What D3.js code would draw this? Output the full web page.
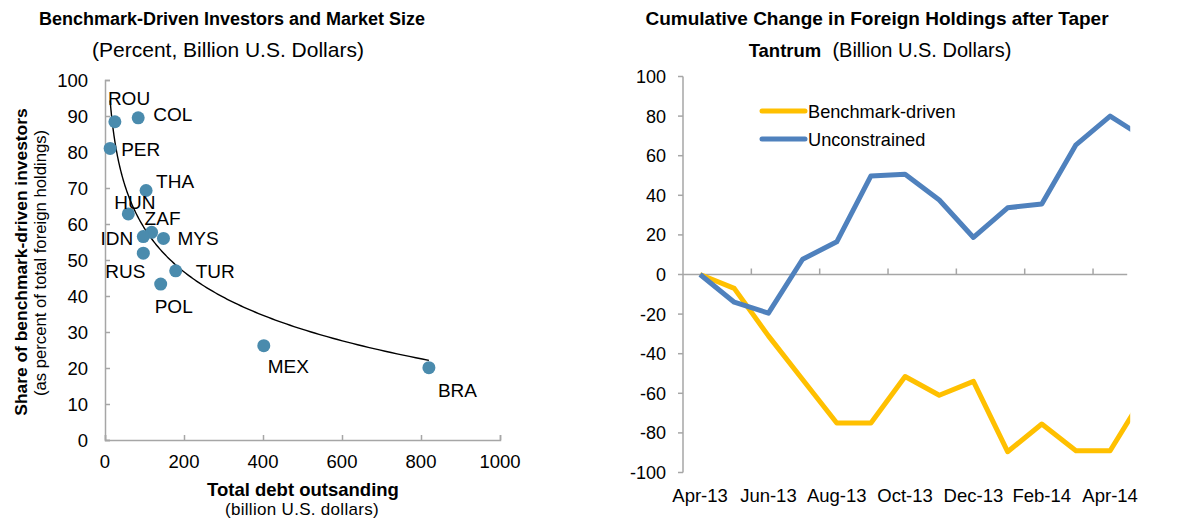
<!DOCTYPE html>
<html>
<head>
<meta charset="utf-8">
<script src="https://cdn.jsdelivr.net/npm/d3@7"></script>
<style>
  body { margin: 0; background: #fff; }
  svg { font-family: Arial, "Liberation Sans", sans-serif; }
</style>
</head>
<body>
<svg id="chart" width="1186" height="520"></svg>
<script>
// left panel data
var countries = ["ROU","COL","PER","THA","HUN","ZAF","IDN","MYS","RUS","TUR","POL","MEX","BRA"]
var debt      = [25, 84, 13, 104, 59, 118, 97, 148, 97, 179, 141, 402, 820]
var share     = [88.4, 89.5, 81, 69.3, 62.8, 57.7, 56.5, 56, 51.9, 47, 43.3, 26.2, 20.1]
var leftXTicks = [0, 200, 400, 600, 800, 1000]
var leftYTicks = [0, 10, 20, 30, 40, 50, 60, 70, 80, 90, 100]

// right panel data
var months = ["Apr-13","May-13","Jun-13","Jul-13","Aug-13","Sep-13","Oct-13","Nov-13","Dec-13","Jan-14","Feb-14","Mar-14","Apr-14","May-14"]
var benchmark     = [0, -7, -31, -53, -75, -75, -51.5, -61, -54, -89.5, -75.5, -89, -89, -61]
var unconstrained = [0, -14, -19.5, 7.7, 16.5, 49.8, 50.6, 37.6, 18.7, 33.7, 35.6, 65.5, 80, 69]
var monthLabels = ["Apr-13","Jun-13","Aug-13","Oct-13","Dec-13","Feb-14","Apr-14"]
var rightYTicks = [-100, -80, -60, -40, -20, 0, 20, 40, 60, 80, 100]

var svg = d3.select("#chart")
var axisColor = "#a6a6a6"

// ---------------- left: scatter ----------------
var x = d3.scaleLinear().domain([0, 1000]).range([105, 500])
var y = d3.scaleLinear().domain([0, 100]).range([440, 80])

svg.append("text").attr("x", 232).attr("y", 25).attr("text-anchor", "middle")
  .attr("font-size", 18).attr("font-weight", "bold")
  .text("Benchmark-Driven Investors and Market Size")
svg.append("text").attr("x", 228).attr("y", 57).attr("text-anchor", "middle")
  .attr("font-size", 21).text("(Percent, Billion U.S. Dollars)")

svg.append("g").attr("transform", "translate(0," + y(0) + ")")
  .call(d3.axisTop(x).tickValues(leftXTicks).tickSize(5).tickFormat(""))
svg.append("g").attr("transform", "translate(" + x(0) + ",0)")
  .call(d3.axisRight(y).tickValues(leftYTicks).tickSize(5).tickFormat(""))
svg.selectAll(".domain, .tick line").attr("stroke", axisColor).attr("stroke-width", 1.5)

svg.selectAll(".lxt").data(leftXTicks).enter().append("text")
  .attr("x", function(d){ return x(d) }).attr("y", 468)
  .attr("text-anchor", "middle").attr("font-size", 18.5).text(function(d){ return d })
svg.selectAll(".lyt").data(leftYTicks).enter().append("text")
  .attr("x", 88).attr("y", function(d){ return y(d) + 6.5 })
  .attr("text-anchor", "end").attr("font-size", 18.5).text(function(d){ return d })

svg.append("text").attr("x", 303).attr("y", 496).attr("text-anchor", "middle")
  .attr("font-size", 18.5).attr("font-weight", "bold").text("Total debt outsanding")
svg.append("text").attr("x", 302).attr("y", 515).attr("text-anchor", "middle")
  .attr("font-size", 17).attr("letter-spacing", 0.3).text("(billion U.S. dollars)")

svg.append("text").attr("transform", "translate(27,262) rotate(-90)")
  .attr("text-anchor", "middle").attr("font-size", 17.4).attr("font-weight", "bold")
  .text("Share of benchmark-driven investors")
svg.append("text").attr("transform", "translate(46,263) rotate(-90)")
  .attr("text-anchor", "middle").attr("font-size", 16.7)
  .text("(as percent of total foreign holdings)")

// logarithmic trend line fitted to the points
var lx = debt.map(function(d){ return Math.log(d) })
var mx = d3.mean(lx), my = d3.mean(share)
var sxy = d3.sum(lx, function(d, i){ return (d - mx) * (share[i] - my) })
var sxx = d3.sum(lx, function(d){ return (d - mx) * (d - mx) })
var b = sxy / sxx, a = my - b * mx
var lo = Math.log(d3.min(debt)), hi = Math.log(d3.max(debt))
var xs = d3.range(0, 201).map(function(i){ return Math.exp(lo + i / 200 * (hi - lo)) })
svg.append("path")
  .attr("d", d3.line().x(function(d){ return x(d) }).y(function(d){ return y(a + b * Math.log(d)) })(xs))
  .attr("fill", "none").attr("stroke", "black").attr("stroke-width", 1.4)

svg.selectAll(".dot").data(countries).enter().append("circle")
  .attr("cx", function(d, i){ return x(debt[i]) })
  .attr("cy", function(d, i){ return y(share[i]) })
  .attr("r", 6.5).attr("fill", "#4a8bad")

// label placement next to each point
var labelPos = {
  ROU: [-7, -17, "start"], COL: [15, 3, "start"], PER: [11, 8, "start"],
  THA: [10, -3, "start"], HUN: [-14, -5, "start"], ZAF: [-7, -7, "start"],
  IDN: [-10, 8, "end"], MYS: [14, 7, "start"], RUS: [2, 25, "end"],
  TUR: [20, 7, "start"], POL: [-6, 29, "start"], MEX: [4, 27, "start"],
  BRA: [9, 29, "start"]
}
svg.selectAll(".lab").data(countries).enter().append("text")
  .attr("x", function(d, i){ return x(debt[i]) + labelPos[d][0] })
  .attr("y", function(d, i){ return y(share[i]) + labelPos[d][1] })
  .attr("text-anchor", function(d){ return labelPos[d][2] })
  .attr("font-size", 19).text(function(d){ return d })

// ---------------- right: lines ----------------
var bw = 34.17
var x2 = d3.scaleBand().domain(months).range([683, 683 + bw * months.length])
var y2 = d3.scaleLinear().domain([-100, 100]).range([472.5, 76.5])
var axisEnd = 683 + bw * 13

svg.append("text").attr("x", 877).attr("y", 25).attr("text-anchor", "middle")
  .attr("font-size", 19).attr("font-weight", "bold")
  .text("Cumulative Change in Foreign Holdings after Taper")
var t2 = svg.append("text").attr("x", 880).attr("y", 57).attr("text-anchor", "middle")
t2.append("tspan").attr("font-size", 18.5).attr("font-weight", "bold").text("Tantrum")
t2.append("tspan").attr("font-size", 20).attr("xml:space", "preserve").text("  (Billion U.S. Dollars)")

var g2 = svg.append("g")
g2.append("line").attr("x1", 683).attr("x2", 683).attr("y1", y2(100)).attr("y2", y2(-100))
  .attr("stroke", axisColor).attr("stroke-width", 1.5)
g2.selectAll(".ryt").data(rightYTicks).enter().append("line")
  .attr("x1", 678).attr("x2", 683)
  .attr("y1", function(d){ return y2(d) }).attr("y2", function(d){ return y2(d) })
  .attr("stroke", axisColor).attr("stroke-width", 1.5)
g2.append("line").attr("x1", 683).attr("x2", axisEnd).attr("y1", y2(0)).attr("y2", y2(0))
  .attr("stroke", axisColor).attr("stroke-width", 1.5)
g2.selectAll(".rxt").data(months.filter(function(d, i){ return i % 2 == 0 && i > 0 && i < 13 })).enter()
  .append("line")
  .attr("x1", function(d){ return x2(d) }).attr("x2", function(d){ return x2(d) })
  .attr("y1", y2(0) - 6).attr("y2", y2(0))
  .attr("stroke", axisColor).attr("stroke-width", 1.5)

svg.selectAll(".rytl").data(rightYTicks).enter().append("text")
  .attr("x", 666).attr("y", function(d){ return y2(d) + 6.5 })
  .attr("text-anchor", "end").attr("font-size", 18).text(function(d){ return d })
svg.selectAll(".rxtl").data(monthLabels).enter().append("text")
  .attr("x", function(d){ return x2(d) + x2.bandwidth() / 2 }).attr("y", 502)
  .attr("text-anchor", "middle").attr("font-size", 18.5).text(function(d){ return d })

svg.append("clipPath").attr("id", "clip2").append("rect")
  .attr("x", 670).attr("y", 60).attr("width", axisEnd + 3 - 670).attr("height", 430)

var line2 = d3.line()
  .x(function(d, i){ return x2(months[i]) + x2.bandwidth() / 2 })
  .y(function(d){ return y2(d) })
var series = [
  { name: "Benchmark-driven", values: benchmark, color: "#ffc000" },
  { name: "Unconstrained", values: unconstrained, color: "#4f81bd" }
]
svg.append("g").attr("clip-path", "url(#clip2)").selectAll("path").data(series).enter()
  .append("path")
  .attr("d", function(d){ return line2(d.values) })
  .attr("fill", "none").attr("stroke", function(d){ return d.color })
  .attr("stroke-width", 5).attr("stroke-linejoin", "round")

var lg = svg.selectAll(".leg").data(series).enter().append("g")
  .attr("transform", function(d, i){ return "translate(760," + (111 + i * 28) + ")" })
lg.append("line").attr("x1", 2).attr("x2", 45)
  .attr("stroke", function(d){ return d.color }).attr("stroke-width", 5).attr("stroke-linecap", "round")
lg.append("text").attr("x", 48).attr("y", 6.5).attr("font-size", 18.2).text(function(d){ return d.name })
</script>
</body>
</html>
